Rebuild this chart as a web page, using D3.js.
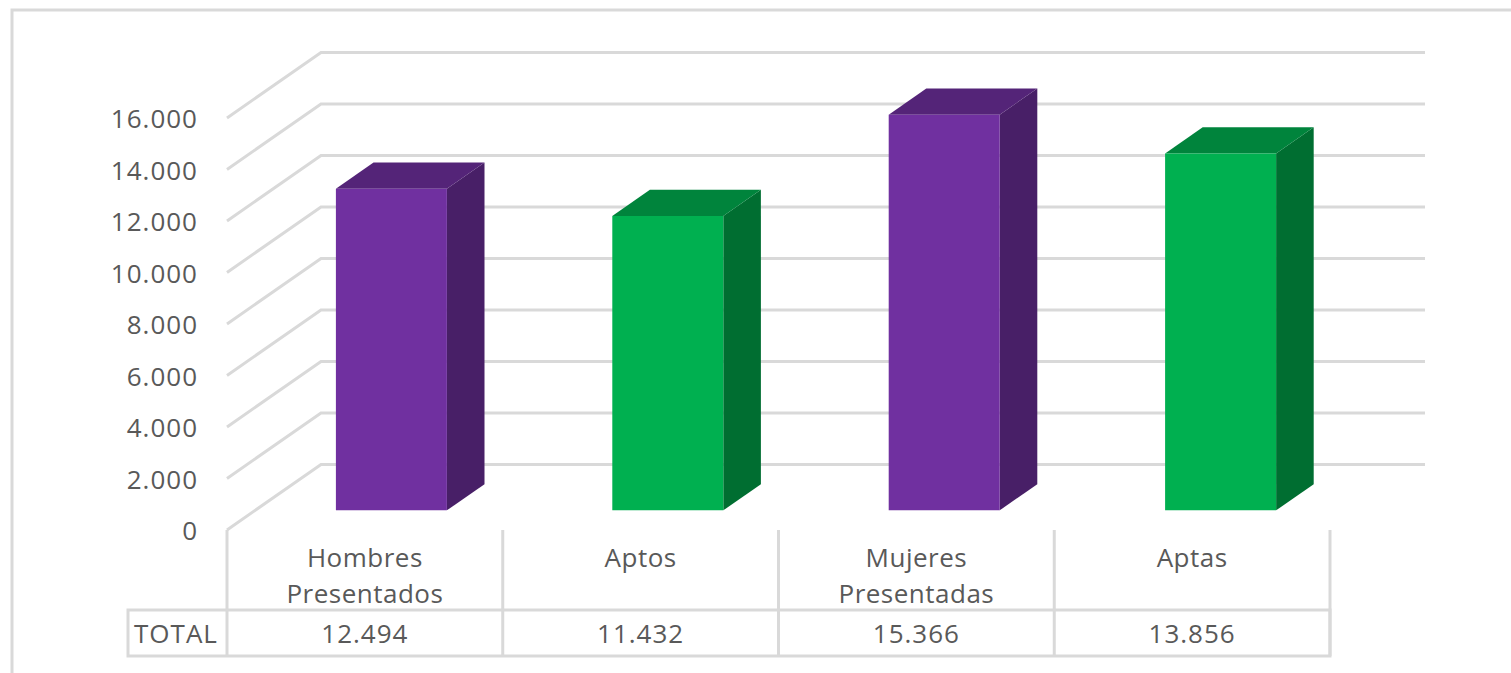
<!DOCTYPE html>
<html>
<head>
<meta charset="utf-8">
<script src="https://cdn.jsdelivr.net/npm/d3@7"></script>
<style>
  html, body { margin: 0; background: #fff; overflow: hidden; }
  text { font-family: "Open Sans", sans-serif; font-size: 26px; fill: #595959; letter-spacing: 1px; }
  .cat { letter-spacing: 0.5px; }
  .domain { display: none; }
</style>
</head>
<body>
<svg id="chart" width="1511" height="673"></svg>
<script>
const categories = [["Hombres", "Presentados"], ["Aptos"], ["Mujeres", "Presentadas"], ["Aptas"]];
const totals = [12494, 11432, 15366, 13856];
const faceColors = ["#7030A0", "#00B050", "#7030A0", "#00B050"];
const topColors = ["#542478", "#00843C", "#542478", "#00843C"];
const sideColors = ["#481F67", "#006E31", "#481F67", "#006E31"];
const yTicks = [0, 2000, 4000, 6000, 8000, 10000, 12000, 14000, 16000];

const svg = d3.select("#chart");
const grid = "#D9D9D9";

// "." as thousands separator, as in the original
const fmt = d3.formatLocale({ decimal: ",", thousands: ".", grouping: [3], currency: ["", ""] }).format(",d");

const x = d3.scaleBand().domain(d3.range(4)).range([227, 1330]);
// bars are spaced a touch wider than the table cells
const xBar = d3.scaleBand().domain(d3.range(4)).range([225, 1330.6]);
const y = d3.scaleLinear().domain([0, 16000]).range([530, 118]);

// floor depth of the 3d box
const depthX = 94;
const depthY = 65.5;
const project = (px, py, z) => [px + z * depthX, py - z * depthY];

// outer frame, only top and left show
svg.append("path")
  .attr("d", "M12,673V10H1511")
  .attr("fill", "none")
  .attr("stroke", grid)
  .attr("stroke-width", 3);

// gridlines run along the side wall then the back wall
const line = d3.line();
svg.append("g").selectAll("path")
  .data(yTicks)
  .join("path")
  .attr("d", d => line([[x.range()[0], y(d)], project(x.range()[0], y(d), 1), [1425, y(d) - depthY]]))
  .attr("fill", "none")
  .attr("stroke", grid)
  .attr("stroke-width", 3);

// bars, z from .3 to .7
const zFront = 0.3;
const zBack = 0.7;
const barW = 111;
const bars = svg.append("g").selectAll("g")
  .data(totals)
  .join("g");

function box(d, i) {
  const left = xBar(i) + (xBar.bandwidth() - barW) / 2;
  const right = left + barW;
  const fb = project(right, y(0), zFront);
  const fl = project(left, y(d), zFront);
  const fr = project(right, y(d), zFront);
  const fb0 = project(left, y(0), zFront);
  const bl = project(left, y(d), zBack);
  const br = project(right, y(d), zBack);
  const bb = project(right, y(0), zBack);
  return { face: [fl, fr, fb, fb0], top: [fl, bl, br, fr], side: [fr, br, bb, fb] };
}

bars.append("path")
  .attr("d", (d, i) => line(box(d, i).side) + "Z")
  .attr("fill", (d, i) => sideColors[i]);
bars.append("path")
  .attr("d", (d, i) => line(box(d, i).top) + "Z")
  .attr("fill", (d, i) => topColors[i]);
bars.append("path")
  .attr("d", (d, i) => line(box(d, i).face) + "Z")
  .attr("fill", (d, i) => faceColors[i]);

// value axis
const yAxis = d3.axisLeft(y).tickValues(yTicks).tickFormat(fmt).tickSize(0).tickPadding(0);
svg.append("g")
  .attr("transform", "translate(198,1.5)")
  .call(yAxis)
  .call(g => g.selectAll("text")
    .style("font-family", '"Open Sans", sans-serif')
    .style("font-size", "26px")
    .attr("dy", "0.32em"));

// data table under the chart
const tableTop = 610;
const tableBottom = 656;
const tableLeft = 128;
const tableRight = x.range()[1];
const table = svg.append("g")
  .attr("fill", "none")
  .attr("stroke", grid)
  .attr("stroke-width", 3);
table.append("path")
  .attr("d", `M${tableLeft},${tableTop}H${tableRight}V${tableBottom}H${tableLeft}Z`);
table.selectAll("line")
  .data(d3.range(5))
  .join("line")
  .attr("x1", i => x.range()[0] + i * x.bandwidth())
  .attr("x2", i => x.range()[0] + i * x.bandwidth())
  .attr("y1", y(0))
  .attr("y2", tableBottom);

const catLabels = svg.append("g").selectAll("text")
  .data(categories)
  .join("text")
  .attr("class", "cat")
  .attr("text-anchor", "middle");
catLabels.selectAll("tspan")
  .data((d, i) => d.map(s => ({ s, i })))
  .join("tspan")
  .attr("x", d => x(d.i) + x.bandwidth() / 2)
  .attr("y", (d, j) => 567 + j * 36)
  .text(d => d.s);

svg.append("g").selectAll("text")
  .data(totals)
  .join("text")
  .attr("text-anchor", "middle")
  .attr("x", (d, i) => x(i) + x.bandwidth() / 2)
  .attr("y", 643)
  .text(d => fmt(d));

svg.append("text")
  .attr("text-anchor", "middle")
  .attr("x", 176)
  .attr("y", 643)
  .text("TOTAL");
</script>
</body>
</html>
